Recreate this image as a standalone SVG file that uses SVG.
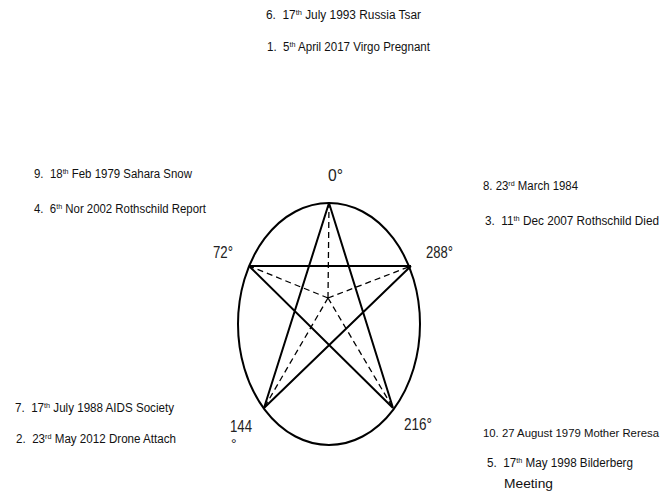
<svg xmlns="http://www.w3.org/2000/svg" width="665" height="499" viewBox="0 0 665 499">
<style>
.t{font-family:"Liberation Sans",Arial,sans-serif;font-size:12px;fill:#111;white-space:pre}
.s{font-size:7.5px}
.d{font-family:"Liberation Sans",Arial,sans-serif;font-size:17px;fill:#222}
.solid{fill:none;stroke:#000;stroke-width:2}
.dash{fill:none;stroke:#000;stroke-width:1.3;stroke-dasharray:6 4}
</style>
<rect width="665" height="499" fill="#fff"/>
<g id="circle"><ellipse class="solid" cx="329" cy="324" rx="91" ry="121"/></g>
<g id="connectors">
<path class="solid" d="M329,203 L264,408 M329,203 L393,408 M249,266 L411,266 M249,266 L393,408 M411,266 L264,408"/>
<path class="dash" d="M328,298 L329,203 M328,298 L249,266 M328,298 L411,266 M328,298 L264,408 M328,298 L393,408"/>
</g>
<g id="degrees">
<text class="d" x="328" y="181" textLength="15" lengthAdjust="spacingAndGlyphs">0°</text>
<text class="d" x="213" y="258" textLength="20" lengthAdjust="spacingAndGlyphs">72°</text>
<text class="d" x="426" y="258" textLength="27" lengthAdjust="spacingAndGlyphs">288°</text>
<text class="d" x="230" y="432" textLength="22" lengthAdjust="spacingAndGlyphs">144</text>
<text class="d" x="231" y="449" style="font-size:14px">°</text>
<text class="d" x="404" y="430" textLength="28" lengthAdjust="spacingAndGlyphs">216°</text>
</g>
<g id="event-6"><text class="t" x="266" y="19" textLength="155" lengthAdjust="spacingAndGlyphs">6.  17<tspan class="s" dy="-4">th</tspan><tspan dy="4"> July 1993 Russia Tsar</tspan></text></g>
<g id="event-1"><text class="t" x="267" y="51" textLength="163" lengthAdjust="spacingAndGlyphs">1.  5<tspan class="s" dy="-4">th</tspan><tspan dy="4"> April 2017 Virgo Pregnant</tspan></text></g>
<g id="event-9"><text class="t" x="34" y="178" textLength="158" lengthAdjust="spacingAndGlyphs">9.  18<tspan class="s" dy="-4">th</tspan><tspan dy="4"> Feb 1979 Sahara Snow</tspan></text></g>
<g id="event-4"><text class="t" x="34" y="213" textLength="172" lengthAdjust="spacingAndGlyphs">4.  6<tspan class="s" dy="-4">th</tspan><tspan dy="4"> Nor 2002 Rothschild Report</tspan></text></g>
<g id="event-8"><text class="t" x="483" y="190" textLength="95" lengthAdjust="spacingAndGlyphs">8. 23<tspan class="s" dy="-4">rd</tspan><tspan dy="4"> March 1984</tspan></text></g>
<g id="event-3"><text class="t" x="485" y="225" textLength="174" lengthAdjust="spacingAndGlyphs">3.  11<tspan class="s" dy="-4">th</tspan><tspan dy="4"> Dec 2007 Rothschild Died</tspan></text></g>
<g id="event-7"><text class="t" x="15" y="412" textLength="159" lengthAdjust="spacingAndGlyphs">7.  17<tspan class="s" dy="-4">th</tspan><tspan dy="4"> July 1988 AIDS Society</tspan></text></g>
<g id="event-2"><text class="t" x="16" y="443" textLength="160" lengthAdjust="spacingAndGlyphs">2.  23<tspan class="s" dy="-4">rd</tspan><tspan dy="4"> May 2012 Drone Attach</tspan></text></g>
<g id="event-10"><text class="t" x="483" y="437" style="font-size:11.5px" textLength="176" lengthAdjust="spacingAndGlyphs">10. 27 August 1979 Mother Reresa</text></g>
<g id="event-5"><text class="t" x="487" y="467" textLength="146" lengthAdjust="spacingAndGlyphs">5.  17<tspan class="s" dy="-4">th</tspan><tspan dy="4"> May 1998 Bilderberg</tspan></text>
<text class="t" x="504" y="488" textLength="49" lengthAdjust="spacingAndGlyphs">Meeting</text></g>
</svg>
